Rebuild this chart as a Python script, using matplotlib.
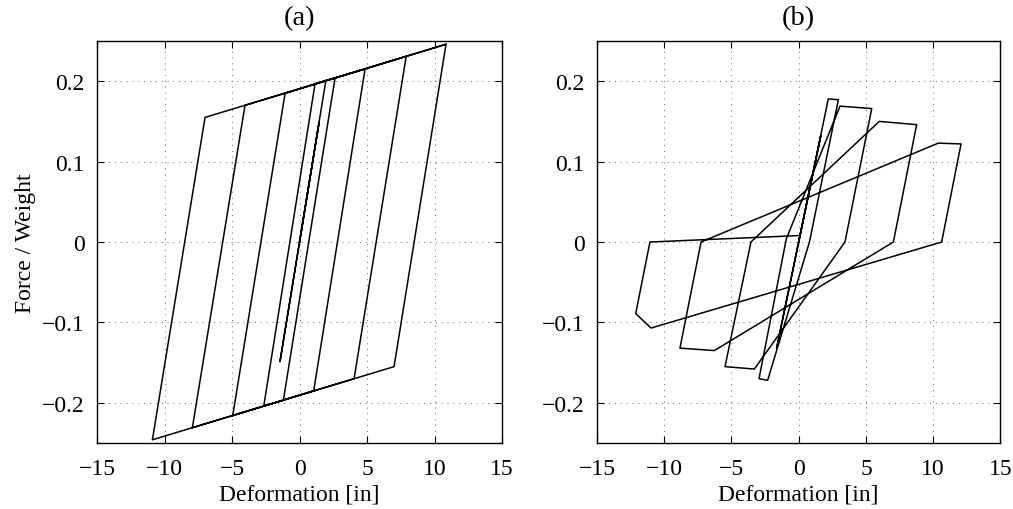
import numpy as np
import matplotlib
matplotlib.use("Agg")
import matplotlib.pyplot as plt

# (a) bilinear hysteresis
disp_a = [0, 1.45, -1.45, 1.95, 2.63, -1.2, -2.65, 1.15, 4.85, 1.05, -4.95,
          -1.07, 7.9, 4.04, -7.94, -4.04, 10.85, 7.0, -10.9, -7.0, 10.85]
force_a = [0, 0.149, -0.149, 0.201, 0.204, -0.197, -0.204, 0.197, 0.215, -0.185, -0.216,
           0.185, 0.231, -0.170, -0.231, 0.170, 0.246, -0.155, -0.246, 0.155, 0.246]

# (b) pinched / degrading hysteresis
disp_b = [0, 1.64, -1.64, 2.20, 2.95, 0.80, -2.31, -2.95, -0.92, 3.07, 5.43, 3.44,
          -3.30, -5.48, -3.55, 5.99, 8.77, 7.04, -6.27, -8.83, -7.26, 10.38, 12.07,
          10.63, -10.98, -12.12, -11.06, 0.0]
force_b = [0, 0.132, -0.132, 0.178, 0.177, 0.0, -0.172, -0.170, 0.004, 0.169, 0.166, 0.0,
           -0.158, -0.155, 0.0, 0.150, 0.146, 0.0, -0.135, -0.132, 0.0, 0.123, 0.122,
           0.0, -0.107, -0.089, 0.0, 0.008]

xticks = [-15, -10, -5, 0, 5, 10, 15]
yticks = [-0.2, -0.1, 0, 0.1, 0.2]
ylabels = ['\u22120.2', '\u22120.1', '0', '0.1', '0.2']
xlabels = ['\u221215', '\u221210', '\u22125', '0', '5', '10', '15']

plt.rcParams['font.family'] = ['Liberation Serif', 'DejaVu Serif']
plt.rcParams['font.size'] = 17

fig = plt.figure(figsize=(10.13, 5.10), dpi=100)
ax1 = fig.add_axes([0.0958, 0.1294, 0.3998, 0.7882])
ax2 = fig.add_axes([0.5893, 0.1294, 0.3983, 0.7882])

for ax, x, y, ttl in [(ax1, disp_a, force_a, '(a)'), (ax2, disp_b, force_b, '(b)')]:
    ax.plot(x, y, color='black', lw=1.1)
    ax.set_xlim(-15, 15)
    ax.set_ylim(-0.25, 0.25)
    ax.set_xticks(xticks)
    ax.set_xticklabels(xlabels)
    ax.set_yticks(yticks)
    ax.set_yticklabels(ylabels)
    ax.grid(True, linestyle=(0, (1, 5)), color='#666666', lw=0.7)
    ax.tick_params(direction='in', top=True, right=True, length=5, width=0.8)
    ax.tick_params(axis='x', pad=11)
    ax.tick_params(axis='y', pad=9)
    for s in ax.spines.values():
        s.set_linewidth(1.0)
    ax.set_xlabel('Deformation [in]', labelpad=3)
    ax.set_title(ttl, pad=12)

ax1.set_ylabel('Force / Weight', labelpad=4)

fig.savefig('out.png', dpi=100)
